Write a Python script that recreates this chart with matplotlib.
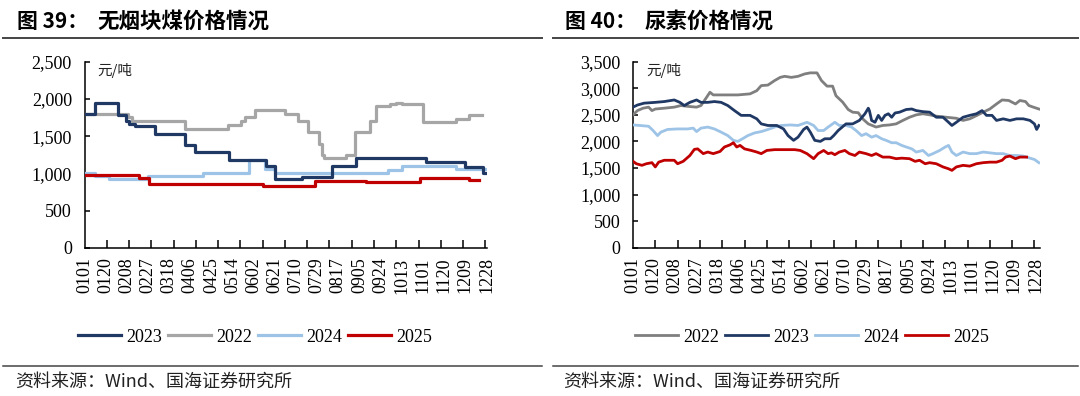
import matplotlib
matplotlib.use('Agg')
import matplotlib.pyplot as plt
from matplotlib.ticker import FuncFormatter, FixedLocator
from matplotlib.lines import Line2D

# ---------------- data ----------------
date_labels = ['0101', '0120', '0208', '0227', '0318', '0406', '0425', '0514', '0602', '0621',
               '0710', '0729', '0817', '0905', '0924', '1013', '1101', '1120', '1209', '1228']

# Left: anthracite lump coal (step series: day index where a price level starts)
coal_2022_days = [0, 39, 43, 90, 129, 141, 144, 153, 180, 192, 201, 211, 213, 215, 235, 243, 256, 262,
                  274, 280, 285, 304, 334, 345, 357]
coal_2022_vals = [1800, 1750, 1700, 1600, 1650, 1700, 1750, 1850, 1800, 1700, 1550, 1400, 1250, 1200,
                  1250, 1550, 1700, 1900, 1930, 1950, 1930, 1690, 1730, 1790, 1790]
coal_2023_days = [0, 9, 30, 37, 40, 45, 63, 90, 99, 130, 163, 171, 195, 222, 244, 307, 342, 358, 361]
coal_2023_vals = [1800, 1950, 1780, 1700, 1660, 1630, 1530, 1380, 1280, 1180, 1100, 920, 950, 1100,
                  1200, 1150, 1090, 1000, 1000]
coal_2024_days = [0, 9, 22, 57, 106, 148, 162, 171, 273, 285, 334, 360]
coal_2024_vals = [1000, 960, 930, 960, 1000, 1180, 1060, 1000, 1040, 1100, 1060, 1060]
coal_2025_days = [0, 49, 58, 160, 207, 253, 301, 345, 354]
coal_2025_vals = [980, 940, 860, 830, 900, 880, 940, 910, 910]

# Right: urea
urea_2022_days = [0, 4, 9, 14, 17, 20, 28, 37, 43, 49, 57, 61, 66, 69, 72, 82, 94, 105, 111, 115,
                  121, 127, 132, 136, 142, 148, 154, 159, 165, 169, 174, 179, 182, 188, 193, 197, 202, 206, 211, 218,
                  224, 230, 236, 242, 248, 254, 260, 266, 272, 281, 290, 296, 302, 308, 314, 320, 326, 331, 337, 343,
                  347, 352, 355, 359, 364]
urea_2022_vals = [2500, 2580, 2625, 2645, 2580, 2610, 2625, 2645, 2675, 2660, 2645, 2675, 2830, 2925, 2875,
                  2875, 2875, 2895, 2955, 3050, 3060, 3145, 3205, 3225, 3205, 3225, 3270, 3290, 3290, 3145,
                  3040, 3040, 2860, 2740, 2600, 2550, 2540, 2425, 2330, 2270, 2300, 2310, 2330, 2395, 2455,
                  2500, 2520, 2500, 2475, 2455, 2435, 2395, 2425, 2485, 2550, 2610, 2705, 2780, 2770, 2705,
                  2770, 2750, 2675, 2645, 2610]
urea_2023_days = [0, 4, 10, 20, 28, 37, 42, 46, 51, 57, 61, 67, 73, 79, 85, 91, 97, 105, 111, 115,
                  121, 129, 135, 139, 144, 148, 153, 156, 159, 163, 168, 172, 177, 180, 184, 191, 197, 203, 208, 211,
                  212, 214, 217, 220, 223, 226, 229, 232, 235, 239, 245, 250, 254, 260, 266, 272, 278, 283, 286, 290,
                  296, 302, 308, 313, 317, 322, 326, 332, 338, 344, 350, 356, 360, 362, 364]
urea_2023_vals = [2645, 2685, 2720, 2735, 2750, 2780, 2735, 2675, 2735, 2780, 2735, 2735, 2750, 2735, 2675,
                  2580, 2490, 2490, 2425, 2330, 2300, 2300, 2235, 2110, 2020, 2080, 2225, 2270, 2175, 2020,
                  2000, 2050, 2050, 2110, 2205, 2330, 2330, 2395, 2520, 2625, 2580, 2395, 2360, 2490, 2395,
                  2490, 2520, 2455, 2535, 2550, 2600, 2610, 2580, 2560, 2550, 2455, 2455, 2360, 2300, 2360,
                  2455, 2490, 2520, 2580, 2490, 2490, 2395, 2425, 2395, 2425, 2425, 2395, 2330, 2225, 2300]
urea_2024_days = [0, 6, 14, 18, 22, 25, 31, 40, 49, 54, 57, 61, 67, 73, 79, 85, 90, 94, 99, 103,
                  109, 115, 121, 127, 133, 141, 148, 156, 162, 166, 171, 175, 179, 181, 185, 191, 196, 200, 205, 209,
                  214, 218, 223, 227, 232, 236, 241, 245, 250, 254, 260, 265, 269, 275, 280, 283, 286, 290, 296, 302,
                  308, 314, 320, 326, 332, 338, 344, 350, 356, 360, 364]
urea_2024_vals = [2310, 2300, 2285, 2205, 2110, 2175, 2225, 2235, 2235, 2250, 2185, 2250, 2270, 2235, 2175,
                  2110, 2020, 2000, 2060, 2110, 2160, 2185, 2225, 2270, 2300, 2310, 2300, 2360, 2300, 2205,
                  2205, 2270, 2330, 2360, 2300, 2300, 2270, 2205, 2110, 2145, 2080, 2110, 2050, 2020, 1975,
                  1975, 1925, 1895, 1860, 1800, 1830, 1735, 1770, 1830, 1895, 1925, 1800, 1735, 1800, 1770,
                  1770, 1800, 1785, 1770, 1770, 1735, 1735, 1725, 1685, 1660, 1600]
urea_2025_days = [0, 3, 8, 12, 17, 20, 23, 28, 37, 40, 45, 51, 55, 58, 63, 67, 72, 78, 82, 87,
                  90, 93, 96, 100, 106, 111, 115, 120, 127, 136, 145, 150, 156, 162, 166, 171, 175, 178, 181, 185,
                  190, 194, 199, 203, 209, 214, 218, 224, 230, 236, 241, 248, 253, 257, 262, 266, 272, 278, 283, 286,
                  290, 296, 302, 308, 314, 320, 326, 331, 334, 338, 343, 347, 353]
urea_2025_vals = [1625, 1580, 1550, 1580, 1600, 1520, 1610, 1645, 1645, 1580, 1625, 1735, 1850, 1860, 1770,
                  1800, 1770, 1810, 1895, 1935, 1975, 1895, 1925, 1860, 1830, 1800, 1770, 1830, 1845, 1845,
                  1845, 1830, 1770, 1675, 1770, 1830, 1770, 1785, 1750, 1800, 1830, 1770, 1735, 1800, 1770,
                  1735, 1770, 1705, 1705, 1675, 1685, 1675, 1625, 1645, 1580, 1600, 1580, 1520, 1485, 1455,
                  1520, 1550, 1535, 1580, 1600, 1610, 1610, 1645, 1705, 1725, 1675, 1705, 1705]

# ---------------- style ----------------
NAVY = '#203864'
GRAY_L = '#A6A6A6'
GRAY_D = '#7F7F7F'
LBLUE = '#9DC3E6'
RED = '#C00000'
SERIF = 'Liberation Serif'
CJK = ['Noto Sans CJK SC', 'DejaVu Sans']

W, H = 1080, 396
fig = plt.figure(figsize=(W / 100, H / 100), dpi=100)


def fx(px):
    return px / W


def fy(py):
    return 1 - py / H


def style_axis(ax, ymax, xmax):
    ax.set_xlim(0, xmax)
    ax.set_ylim(0, ymax)
    for s in ('top', 'right'):
        ax.spines[s].set_visible(False)
    for s in ('left', 'bottom'):
        ax.spines[s].set_linewidth(1.1)
        ax.spines[s].set_color('black')
    ax.xaxis.set_major_locator(FixedLocator([i * 19 for i in range(len(date_labels))]))
    ax.set_xticklabels(date_labels, rotation=90, fontfamily=SERIF, fontsize=13)
    ax.xaxis.set_minor_locator(FixedLocator(list(range(0, 361, 20))))
    ax.tick_params(axis='x', which='major', length=0, pad=7)
    ax.tick_params(axis='x', which='minor', length=5.5, width=1.1, direction='in')
    ax.set_yticks(list(range(0, ymax + 1, 500)))
    ax.yaxis.set_major_formatter(FuncFormatter(lambda v, p: f'{int(v):,}'))
    ax.tick_params(axis='y', length=3.5, width=1.1, direction='in', pad=9)
    for lab in ax.get_yticklabels():
        lab.set_fontfamily(SERIF)
        lab.set_fontsize(13)
    ax.text(0.032, 0.955, '元/吨', transform=ax.transAxes, fontsize=10.5, family=CJK,
            ha='left', va='center', color='#222222')


# Left axes
ax1 = fig.add_axes([fx(84.5), fy(247.7), fx(487 - 84.5), (247.7 - 61.7) / H])
l23, = ax1.step(coal_2023_days, coal_2023_vals, where='post', color=NAVY, lw=2.3, label='2023', zorder=4)
l22, = ax1.step(coal_2022_days, coal_2022_vals, where='post', color=GRAY_L, lw=2.3, label='2022', zorder=3)
l24, = ax1.step(coal_2024_days, coal_2024_vals, where='post', color=LBLUE, lw=2.3, label='2024', zorder=3.5)
l25, = ax1.step(coal_2025_days, coal_2025_vals, where='post', color=RED, lw=2.3, label='2025', zorder=5)
style_axis(ax1, 2500, 361.5)

# Right axes
ax2 = fig.add_axes([fx(633), fy(247.7), fx(1040 - 633), (247.7 - 61.7) / H])
r22, = ax2.plot(urea_2022_days, urea_2022_vals, color=GRAY_D, lw=2.0, label='2022', zorder=3)
r23, = ax2.plot(urea_2023_days, urea_2023_vals, color=NAVY, lw=2.0, label='2023', zorder=4)
r24, = ax2.plot(urea_2024_days, urea_2024_vals, color=LBLUE, lw=2.0, label='2024', zorder=3.5)
r25, = ax2.plot(urea_2025_days, urea_2025_vals, color=RED, lw=2.0, label='2025', zorder=5)
style_axis(ax2, 3500, 365)

leg_kw = dict(loc='center', ncol=4, frameon=False, prop={'family': SERIF, 'size': 13},
              handlelength=2.35, handletextpad=0.3, columnspacing=0.35, borderaxespad=0)
fig.legend([l23, l22, l24, l25], ['2023', '2022', '2024', '2025'],
           bbox_to_anchor=(fx(255), fy(337)), **leg_kw)
fig.legend([r22, r23, r24, r25], ['2022', '2023', '2024', '2025'],
           bbox_to_anchor=(fx(812), fy(337)), **leg_kw)

# Titles
fig.text(fx(17), fy(21), '图 39：', fontsize=15, fontweight='bold', family=CJK, ha='left', va='center')
fig.text(fx(97), fy(21), '无烟块煤价格情况', fontsize=15.5, fontweight='bold', family=CJK, ha='left', va='center')
fig.text(fx(565), fy(21), '图 40：', fontsize=15, fontweight='bold', family=CJK, ha='left', va='center')
fig.text(fx(645), fy(21), '尿素价格情况', fontsize=15.5, fontweight='bold', family=CJK, ha='left', va='center')

# Rules
for x0, x1 in ((3, 542), (553, 1078)):
    fig.add_artist(Line2D([fx(x0), fx(x1)], [fy(37.5), fy(37.5)], transform=fig.transFigure,
                          color='#444444', lw=1.4))
    fig.add_artist(Line2D([fx(x0), fx(x1)], [fy(366), fy(366)], transform=fig.transFigure,
                          color='#444444', lw=1.1))

# Source
fig.text(fx(15), fy(381.5), '资料来源：Wind、国海证券研究所', fontsize=13, family=CJK,
         ha='left', va='center', color='#222222')
fig.text(fx(563), fy(381.5), '资料来源：Wind、国海证券研究所', fontsize=13, family=CJK,
         ha='left', va='center', color='#222222')

fig.savefig('out.png', dpi=100)
